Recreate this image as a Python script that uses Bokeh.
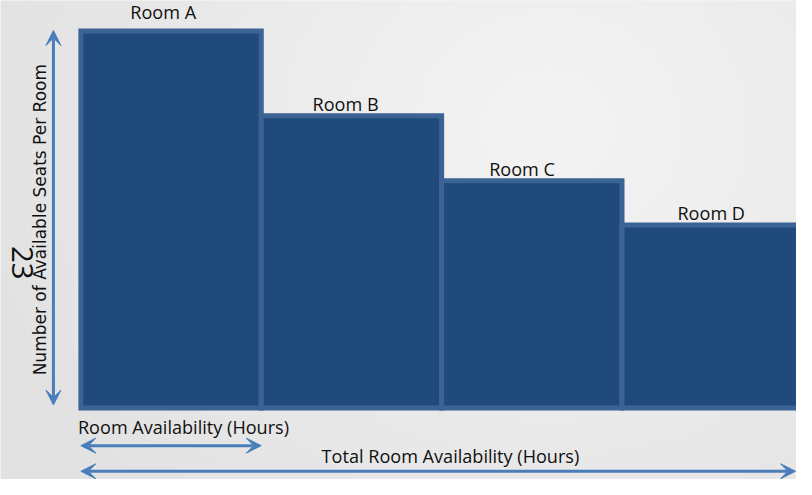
import math
import numpy as np
from bokeh.plotting import figure
from bokeh.models import Range1d, Arrow, VeeHead, ColumnDataSource
from bokeh.core.properties import value
from bokeh.embed import file_html
from bokeh.resources import INLINE

# ---- data ----
rooms = ["Room A", "Room B", "Room C", "Room D"]
hours = [8, 8, 8, 8]            # room availability (hours) per room
seats = [40, 31, 24.1, 19.4]    # available seats per room

y_label = "Number of Available Seats Per Room"
x_label_room = "Room Availability (Hours)"
x_label_total = "Total Room Availability (Hours)"
side_note = "23"

# ---- layout (reference pixel space -> data space) ----
W, H = 796, 479
REF_W, REF_H = 812, 495
X0, PXH = 82.0, 23.0    # reference pixel of hour 0, pixels per hour
Y0, PXS = 421.0, 9.74   # reference pixel of seat 0, pixels per seat

def dx(px):
    return (px - X0) / PXH

def dy(py):
    return (Y0 - py) / PXS

FS = W / REF_W  # font scale

p = figure(width=W, height=H, output_backend="svg", toolbar_location=None,
           x_range=Range1d(dx(0), dx(REF_W)),
           y_range=Range1d(dy(REF_H), dy(0)),
           min_border=0)
p.axis.visible = False
p.grid.visible = False
p.outline_line_color = None
p.background_fill_color = "#ececec"
p.border_fill_color = "#ececec"

# soft radial background (slide style)
gw, gh = 203, 124
gx, gy = np.meshgrid(np.linspace(0, REF_W, gw), np.linspace(0, REF_H, gh))
dist = np.sqrt(((gx - 560) / 1.0) ** 2 + ((gy - 130) / 0.9) ** 2)
t = np.clip(dist / 620.0, 0, 1)
lev = (244 - (244 - 226) * t).astype(np.uint32)
img = (255 << 24) | (lev << 16) | (lev << 8) | lev
img = np.flipud(img).astype(np.uint32)
p.image_rgba(image=[img], x=dx(0), y=dy(REF_H), dw=dx(REF_W) - dx(0),
             dh=dy(0) - dy(REF_H))

left = []
acc = 0
for h in hours:
    left.append(acc)
    acc += h
right = [l + h for l, h in zip(left, hours)]
centers = [(l + r) / 2 for l, r in zip(left, right)]

src = ColumnDataSource(dict(left=left, right=right, top=seats,
                            bottom=[0] * len(seats), room=rooms))
p.quad(left="left", right="right", top="top", bottom="bottom", source=src,
       fill_color="#214a7c", line_color="#3b6494", line_width=5,
       line_join="miter")

def fpx(sz):
    return f"{sz * FS:.1f}px"

# room labels (text middle sits this many ref px above the bar outline)
label_dx = [-8, -6, -10, -1]
label_gap = [19, 12.5, 12.5, 12.5]
for c, s, r, ox, g in zip(centers, seats, rooms, label_dx, label_gap):
    ly = dy(Y0 - s * PXS - g)
    p.text(x=[c + ox / PXH], y=[ly], text=[r],
           text_align="center", text_baseline="middle",
           text_font=value("Open Sans"), text_font_size=fpx(18.5),
           text_color="#111111")

ACOL = "#4a7ebb"
def head():
    return VeeHead(size=15, line_color=ACOL, fill_color=ACOL, line_width=1)

# vertical arrow (seats)
p.add_layout(Arrow(start=head(), end=head(),
                   x_start=dx(54), y_start=dy(418), x_end=dx(54), y_end=dy(31),
                   line_color=ACOL, line_width=3))
# single-room hours arrow
p.add_layout(Arrow(start=head(), end=head(),
                   x_start=left[0], y_start=dy(460), x_end=right[0], y_end=dy(460),
                   line_color=ACOL, line_width=3))
# total hours arrow
p.add_layout(Arrow(start=head(), end=head(),
                   x_start=left[0], y_start=dy(486.5), x_end=dx(811), y_end=dy(486.5),
                   line_color=ACOL, line_width=3))

# axis-like labels
p.text(x=[dx(40)], y=[dy(226.5)], text=[y_label], angle=math.pi / 2,
       text_align="center", text_baseline="middle",
       text_font=value("DejaVu Sans"), text_font_size=fpx(17.3), text_color="#111111")
p.text(x=[dx(22)], y=[dy(271)], text=[side_note], angle=-math.pi / 2,
       text_align="center", text_baseline="middle",
       text_font=value("Open Sans"), text_font_size=fpx(30), text_color="#111111")
p.text(x=[dx(79)], y=[dy(441)], text=[x_label_room],
       text_align="left", text_baseline="middle",
       text_font=value("Open Sans"), text_font_size=fpx(18.5), text_color="#111111")
p.text(x=[dx(459)], y=[dy(471)], text=[x_label_total],
       text_align="center", text_baseline="middle",
       text_font=value("Open Sans"), text_font_size=fpx(18.5), text_color="#111111")

open("out.html", "w").write(file_html(p, INLINE))
